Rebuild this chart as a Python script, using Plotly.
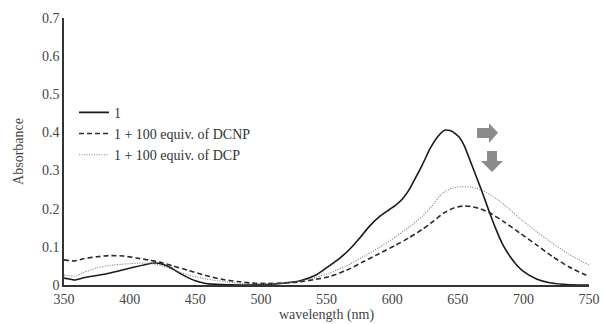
import plotly.graph_objects as go

# ---- data ----
wl_1 = [350, 355, 358, 365, 375, 384, 400, 417, 422, 430, 437, 443, 450, 458, 470, 485, 500, 515, 530, 542,
        552, 560, 568, 575, 583, 591, 598, 603, 608, 613, 618, 623, 629, 635, 640, 645, 651, 655, 659, 664,
        669, 674, 679, 684, 690, 695, 700, 710, 720, 730, 742, 750]
abs_1 = [0.018, 0.015, 0.013, 0.019, 0.025, 0.031, 0.044, 0.057, 0.057, 0.048, 0.033, 0.022, 0.011, 0.004,
         0.001, 0.0, 0.001, 0.004, 0.011, 0.026, 0.050, 0.070, 0.095, 0.122, 0.155, 0.181, 0.198, 0.210,
         0.226, 0.250, 0.282, 0.315, 0.358, 0.390, 0.406, 0.404, 0.388, 0.365, 0.330, 0.285, 0.240, 0.192,
         0.147, 0.108, 0.074, 0.052, 0.036, 0.016, 0.006, 0.002, 0.0, 0.0]

wl_dcnp = [350, 354, 358, 365, 375, 384, 395, 405, 415, 423, 433, 445, 458, 470, 482, 493, 505, 515, 529, 542,
           552, 565, 578, 590, 603, 613, 623, 631, 639, 647, 654, 660, 667, 674, 685, 697, 710, 722, 735, 750]
abs_dcnp = [0.066, 0.064, 0.063, 0.069, 0.074, 0.077, 0.076, 0.071, 0.065, 0.060, 0.050, 0.038, 0.025, 0.015,
            0.009, 0.005, 0.004, 0.005, 0.008, 0.015, 0.022, 0.038, 0.061, 0.082, 0.105, 0.124, 0.146, 0.166,
            0.188, 0.202, 0.207, 0.206, 0.200, 0.190, 0.166, 0.137, 0.105, 0.075, 0.047, 0.022]

wl_dcp = [350, 354, 358, 365, 375, 384, 400, 415, 425, 435, 445, 455, 465, 475, 486, 500, 515, 530, 542, 552,
          565, 578, 590, 603, 613, 623, 631, 638, 646, 654, 661, 669, 680, 690, 697, 710, 722, 735, 750]
abs_dcp = [0.026, 0.024, 0.023, 0.033, 0.045, 0.051, 0.056, 0.057, 0.050, 0.038, 0.026, 0.018, 0.012, 0.008,
           0.004, 0.002, 0.004, 0.010, 0.020, 0.031, 0.050, 0.074, 0.098, 0.127, 0.152, 0.180, 0.210, 0.240,
           0.254, 0.258, 0.256, 0.248, 0.225, 0.197, 0.175, 0.140, 0.110, 0.080, 0.052]

names = ["1", "1 + 100 equiv. of DCNP", "1 + 100 equiv. of DCP"]
x_ticks = [350, 400, 450, 500, 550, 600, 650, 700, 750]
y_ticks = [0, 0.1, 0.2, 0.3, 0.4, 0.5, 0.6, 0.7]
y_labels = ["0", "0.1", "0.2", "0.3", "0.4", "0.5", "0.6", "0.7"]

FONT = "Liberation Serif, DejaVu Serif, serif"

fig = go.Figure()
fig.add_trace(go.Scatter(x=wl_1, y=abs_1, mode="lines", name=names[0],
                         line=dict(color="#1a1a1a", width=1.6, shape="spline", smoothing=0.6)))
fig.add_trace(go.Scatter(x=wl_dcnp, y=abs_dcnp, mode="lines", name=names[1],
                         line=dict(color="#2a2a2a", width=1.6, dash="5px,3px", shape="spline", smoothing=0.6)))
fig.add_trace(go.Scatter(x=wl_dcp, y=abs_dcp, mode="lines", name=names[2],
                         line=dict(color="#7a7a7a", width=1.1, dash="1px,1.5px", shape="spline", smoothing=0.6)))

# grey block arrows (decoration)
arrow_col = "#8c8c8c"
fig.add_shape(type="path", xref="paper", yref="paper", fillcolor=arrow_col, line=dict(width=0),
              path="M 0.7867 0.588 L 0.8095 0.588 L 0.8095 0.606 L 0.8267 0.570 L 0.8095 0.532 "
                   "L 0.8095 0.551 L 0.7867 0.551 Z")
fig.add_shape(type="path", xref="paper", yref="paper", fillcolor=arrow_col, line=dict(width=0),
              path="M 0.8057 0.502 L 0.8248 0.502 L 0.8248 0.464 L 0.8362 0.464 L 0.8152 0.423 "
                   "L 0.7943 0.464 L 0.8057 0.464 Z")

fig.update_layout(
    width=604, height=324,
    margin=dict(l=64, r=15, t=18, b=39),
    paper_bgcolor="white", plot_bgcolor="white",
    font=dict(family=FONT, size=13, color="#333333"),
    showlegend=True,
    legend=dict(x=0.019, y=0.705, xanchor="left", yanchor="top",
                bgcolor="rgba(0,0,0,0)", font=dict(family=FONT, size=14, color="#333333"),
                itemwidth=30, tracegroupgap=0),
    xaxis=dict(range=[350, 750], tickvals=x_ticks, ticktext=[str(v) for v in x_ticks],
               showgrid=False, zeroline=False, showline=True, linecolor="#333333", linewidth=2,
               ticks="", tickfont=dict(size=14, color="#444444"), automargin=False,
               title=dict(text="wavelength (nm)", font=dict(size=14, color="#444444"), standoff=2)),
    yaxis=dict(range=[0, 0.7], tickvals=y_ticks, ticktext=y_labels,
               showgrid=False, zeroline=False, showline=True, linecolor="#333333", linewidth=1.5,
               ticks="", tickfont=dict(size=14, color="#444444"), automargin=False,
               title=dict(text="Absorbance", font=dict(size=14, color="#444444"), standoff=15)),
)

fig.write_html("out.html")
